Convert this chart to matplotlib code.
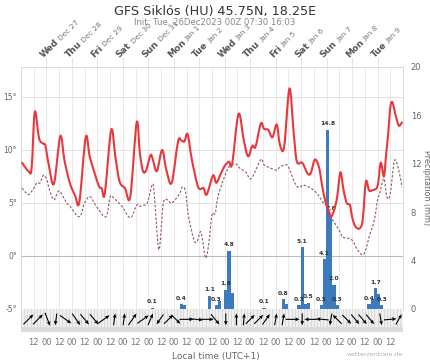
import matplotlib
matplotlib.use('Agg')
import matplotlib.pyplot as plt
import numpy as np
from matplotlib.path import Path
from matplotlib.patches import PathPatch
from matplotlib.font_manager import FontProperties

# ---------------- data (hours since 26 Dec 00:00 local time) ----------------
temp_hours = [1, 7, 10, 13, 17, 21, 23, 26, 31, 37, 41, 46, 51, 55, 61, 65, 73, 76, 79, 85,
              89, 93, 98, 103, 109, 112, 115, 118, 122, 124, 128, 133, 137, 142, 148, 151, 154,
              157, 161, 167, 172, 175, 181, 184, 188, 192, 196, 199, 205, 210, 214, 218, 221,
              226, 229, 233, 237, 241, 244, 248, 253, 257, 260, 265, 270, 273, 277, 281, 284,
              287, 290, 292, 295, 298, 301, 304, 307, 310, 312, 315, 319, 322, 325, 328, 331,
              336, 339, 342, 344, 346, 348, 350, 353, 356, 359]
temp_c = [8.8, 8.0, 8.3, 13.6, 11.1, 10.6, 10.4, 8.7, 6.8, 11.3, 9.0, 6.9, 5.7, 5.1, 11.2, 9.3,
          6.7, 6.4, 5.9, 11.9, 9.3, 7.0, 6.4, 5.6, 12.6, 9.7, 8.0, 8.1, 9.5, 9.2, 8.0, 10.0, 8.1,
          6.9, 10.8, 10.9, 10.8, 11.5, 9.1, 6.5, 6.4, 5.8, 7.6, 6.9, 7.7, 8.5, 8.9, 8.7, 13.4,
          10.9, 9.4, 10.4, 10.3, 12.5, 12.0, 11.9, 11.2, 12.4, 10.5, 10.3, 15.8, 11.6, 8.9, 8.8,
          7.8, 7.8, 9.1, 8.3, 6.5, 5.1, 4.3, 3.7, 4.3, 5.6, 7.9, 6.2, 5.0, 4.8, 3.7, 2.8, 2.6,
          3.4, 7.0, 6.2, 6.2, 6.6, 8.8, 7.5, 9.5, 11.5, 14.0, 14.5, 13.3, 12.3, 12.6]

dew_hours = [1, 7, 12, 15, 18, 21, 24, 27, 31, 35, 38, 43, 46, 55, 60, 65, 71, 80, 84, 88,
             95, 103, 109, 112, 115, 119, 124, 126, 130, 134, 138, 142, 149, 152, 155, 158, 163,
             166, 169, 171, 174, 177, 180, 183, 185, 188, 193, 196, 202, 206, 212, 217, 226,
             229, 235, 241, 244, 249, 252, 259, 263, 266, 273, 279, 285, 289, 292, 295, 300,
             303, 307, 312, 317, 322, 325, 328, 333, 336, 338, 342, 345, 348, 352, 356, 359]
dew_c = [6.4, 5.8, 6.4, 6.9, 6.9, 7.6, 7.3, 6.2, 5.3, 6.1, 5.9, 5.0, 4.7, 3.7, 5.0, 5.6, 4.7,
         3.7, 5.6, 5.4, 4.7, 3.6, 4.8, 4.7, 4.8, 5.0, 6.8, 5.3, 0.6, 4.9, 5.3, 5.0, 5.8, 6.5,
         6.1, 3.7, 1.5, 1.4, 2.3, 1.6, -0.2, 1.2, 3.9, 4.0, 5.3, 6.4, 7.8, 8.4, 8.7, 8.3, 7.9,
         7.3, 9.1, 8.6, 8.3, 8.1, 8.4, 8.6, 8.4, 6.7, 6.5, 6.7, 6.4, 5.9, 5.0, 4.6, 3.7, 3.2,
         2.4, 1.8, 1.7, 1.5, 0.6, 0.1, 0.6, 1.8, 3.4, 5.3, 5.9, 7.3, 5.5, 5.9, 9.0, 8.1, 6.5]

precip_hours = [124, 151, 154, 178, 184, 187, 193, 196, 199, 229, 247, 250, 262, 265, 268,
                271, 283, 286, 289, 292, 295, 298, 328, 331, 334, 337, 340]
precip_mm = [0.1, 0.4, 0.3, 1.1, 0.3, 0.7, 1.6, 4.8, 1.3, 0.1, 0.8, 0.4, 0.3, 5.1, 0.4,
             0.5, 0.3, 4.1, 14.8, 7.8, 2.0, 0.3, 0.4, 0.8, 1.7, 1.2, 0.3]
precip_labeled = [1, 1, 0, 1, 1, 0, 1, 1, 0, 1, 1, 0, 1, 1, 0,
                  1, 1, 1, 1, 1, 1, 1, 1, 0, 1, 0, 1]

wind_hours = [7, 16, 25, 33, 42, 52, 60, 69, 78, 88, 97, 105, 115, 122, 131, 139, 146, 156,
              165, 175, 183, 193, 203, 210, 216, 224, 231, 240, 247, 256, 265, 273, 284, 292,
              298, 307, 315, 322, 329, 339, 348, 356]
wind_from_deg = [225, 225, 339, 8, 305, 325, 320, 320, 235, 188, 188, 215, 235, 203, 35, 225,
                 315, 270, 275, 270, 320, 0, 180, 185, 225, 225, 215, 190, 190, 270, 0, 90, 95,
                 10, 135, 315, 320, 320, 320, 350, 265, 210]
wind_kmh = [20, 20, 20, 17, 20, 20, 19, 19, 20, 17, 17, 20, 20, 18, 17, 18, 18, 20, 20, 20,
            19, 17, 17, 17, 18, 18, 18, 17, 17, 20, 17, 18, 18, 17, 18, 18, 18, 18, 18, 17,
            18, 17]

weekdays = ["Wed", "Thu", "Fri", "Sat", "Sun", "Mon", "Tue", "Wed", "Thu", "Fri", "Sat",
            "Sun", "Mon", "Tue"]
dates = ["Dec 27", "Dec 28", "Dec 29", "Dec 30", "Dec 31", "Jan 1", "Jan 2", "Jan 3",
         "Jan 4", "Jan 5", "Jan 6", "Jan 7", "Jan 8", "Jan 9"]

title = "GFS Siklós (HU) 45.75N, 18.25E"
subtitle = "Init: Tue, 26Dec2023 00Z 07:30 16:03"

# ---------------- layout ----------------
W, H = 431, 360
fig = plt.figure(figsize=(W / 100, H / 100), dpi=100)
fig.patch.set_facecolor('white')

def fx(px):
    return px / W

def fy(py):
    return 1 - py / H

L, R, T, B, BW = 21, 403, 67, 309, 332
ax = fig.add_axes([fx(L), fy(B), fx(R) - fx(L), fy(T) - fy(B)])
ax2 = ax.twinx()
axw = fig.add_axes([fx(L), fy(BW), fx(R) - fx(L), fy(B) - fy(BW)])

XMAX = 360
TMIN, TMAX = -5, 17.83
for a in (ax, ax2, axw):
    a.set_xlim(0, XMAX)
ax.set_ylim(TMIN, TMAX)
ax2.set_ylim(0, 20)

GRID = '#e6e6e6'
TXT = '#666666'

# vertical grid every 12 h
for h in range(12, XMAX, 12):
    ax.axvline(h, color=GRID, lw=0.6, zorder=0)
# horizontal grid
for t in (5, 10, 15):
    ax.axhline(t, color='#e2e2e2', lw=0.7, zorder=0)
ax.axhline(0, color='#bdbdbd', lw=0.8, zorder=0)

for s in ax.spines.values():
    s.set_color('#d9d9d9'); s.set_linewidth(0.7)
for s in ax2.spines.values():
    s.set_visible(False)
ax.spines['bottom'].set_visible(False)

ax.set_yticks([-5, 0, 5, 10, 15])
ax.set_yticklabels(['-5°', '0°', '5°', '10°', '15°'])
ax.tick_params(axis='y', length=0, pad=3, labelsize=5.5, labelcolor=TXT)
ax.set_xticks([])
ax2.set_yticks([0, 4, 8, 12, 16, 20])
ax2.tick_params(axis='y', length=0, pad=5.5, labelsize=6, labelcolor=TXT)
ax2.set_xticks([])
fig.text(fx(426.5), fy(188), 'Precipitation (mm)', rotation=270, ha='center', va='center',
         fontsize=5.8, color=TXT)

# precipitation bars
ax2.bar(precip_hours, precip_mm, width=3, color='#3c7cbc', edgecolor='none', zorder=2)
for h, v, lab in zip(precip_hours, precip_mm, precip_labeled):
    if lab:
        ax2.annotate(f"{v:.1f}", (h, v), xytext=(0, 2.5), textcoords='offset points',
                     ha='center', va='bottom', fontsize=4.3, fontweight='bold',
                     color='#333333', zorder=4)

# smooth curves (Catmull-Rom rendered as Bezier path)
def smooth_path(xs, ys):
    P = np.column_stack([xs, ys]).astype(float)
    verts = [P[0]]
    codes = [Path.MOVETO]
    n = len(P)
    for i in range(n - 1):
        p0 = P[i - 1] if i > 0 else P[i]
        p1 = P[i]
        p2 = P[i + 1]
        p3 = P[i + 2] if i + 2 < n else P[i + 1]
        c1 = p1 + (p2 - p0) / 6.0
        c2 = p2 - (p3 - p1) / 6.0
        verts += [c1, c2, p2]
        codes += [Path.CURVE4] * 3
    return Path(verts, codes)

ax2.add_patch(PathPatch(smooth_path(dew_hours, dew_c), transform=ax.transData,
                        facecolor='none', edgecolor='#94585a', lw=0.8,
                        linestyle=(0, (2.2, 1.6)), zorder=3))
ax2.add_patch(PathPatch(smooth_path(temp_hours, temp_c), transform=ax.transData,
                        facecolor='none', edgecolor='#e8383d', lw=1.5, zorder=5,
                        capstyle='round', joinstyle='round'))

# ---------------- wind strip ----------------
axw.set_ylim(0, 1)
axw.set_facecolor('#f0f0f0')
for h in range(0, XMAX + 1, 3):
    axw.axvline(h, color='#cfcfcf', lw=0.5, zorder=0)
axw.axhspan(0, 0.22, color='#dcdcdc', zorder=0.5, lw=0)
for s in axw.spines.values():
    s.set_visible(False)
wd = np.radians(wind_from_deg)
u = -np.sin(wd) * np.array(wind_kmh)
v = -np.cos(wd) * np.array(wind_kmh)
axw.quiver(wind_hours, [0.55] * len(wind_hours), u, v, angles='uv', scale_units='dots',
           scale=1 / 0.7, pivot='middle', units='dots', width=1.1, headwidth=3.5,
           headlength=4, headaxislength=3.5, color='black', zorder=3)
axw.set_yticks([])
xt = list(range(12, XMAX - 11, 12))
axw.set_xticks(xt)
axw.set_xticklabels(['12' if h % 24 == 12 else '00' for h in xt])
axw.tick_params(axis='x', length=0, pad=4, labelsize=6, labelcolor='#777777')

# ---------------- texts ----------------
fig.text(fx(215), fy(11), title, ha='center', va='center', fontsize=9.2, color='#333333')
fig.text(fx(215), fy(23), subtitle, ha='center', va='center', fontsize=6.1, color='#888888')
fig.text(fx(216), fy(356), 'Local time (UTC+1)', ha='center', va='center', fontsize=6.5,
         color=TXT)
fig.text(fx(403), fy(354), 'wetterzentrale.de', ha='right', va='center', fontsize=4.5,
         color='#b0b0b0')

# day labels (rotated) and top ticks
renderer = fig.canvas.get_renderer()
fp_wd = FontProperties(family='DejaVu Sans', size=6.5, weight='bold')
ax_h = (fy(T) - fy(B)) * H
for i, (w, d) in enumerate(zip(weekdays, dates)):
    h = 24 * (i + 1)
    ax.plot([h, h], [1, 1 + 9 / ax_h], transform=ax.get_xaxis_transform(), color='#dddddd',
            lw=0.6, clip_on=False)
    ww, _, _ = renderer.get_text_width_height_descent(w, fp_wd, ismath=False)
    ax.annotate(w, xy=(h, 1), xycoords=('data', 'axes fraction'), xytext=(-3, 9),
                textcoords='offset pixels', rotation=45, rotation_mode='anchor', ha='left',
                va='baseline', fontproperties=fp_wd, color='#555555', annotation_clip=False)
    off = (ww + 2.5) / np.sqrt(2)
    ax.annotate(d, xy=(h, 1), xycoords=('data', 'axes fraction'), xytext=(-3 + off, 9 + off),
                textcoords='offset pixels', rotation=45, rotation_mode='anchor', ha='left',
                va='baseline', fontsize=5.3, color='#777777', annotation_clip=False)

fig.savefig('out.png', dpi=100)
